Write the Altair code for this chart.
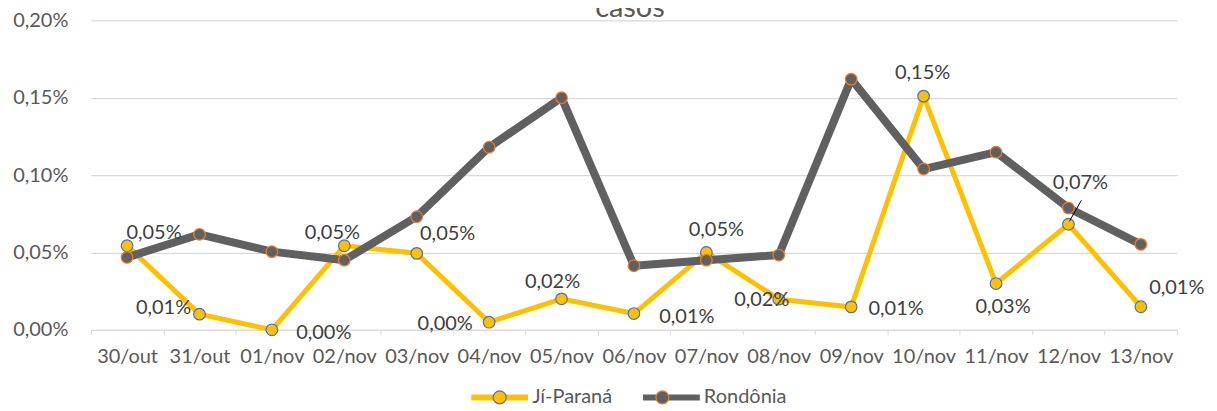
import altair as alt
import pandas as pd

# ---------------- data ----------------
dates = ["30/out", "31/out", "01/nov", "02/nov", "03/nov", "04/nov", "05/nov",
         "06/nov", "07/nov", "08/nov", "09/nov", "10/nov", "11/nov", "12/nov", "13/nov"]
ji_parana = [0.0543, 0.0101, 0.0000, 0.0543, 0.0494, 0.0049, 0.0200, 0.0105,
             0.0500, 0.0198, 0.0148, 0.1510, 0.0299, 0.0682, 0.0149]
rondonia = [0.0468, 0.0617, 0.0505, 0.0450, 0.0731, 0.1180, 0.1500, 0.0414,
            0.0450, 0.0483, 0.1620, 0.1039, 0.1148, 0.0787, 0.0552]
series_names = ["Jí-Paraná", "Rondônia"]
y_ticks = [0, 0.05, 0.10, 0.15, 0.20]
title_text = "casos"

# data-label placement (pixel offsets of each Jí-Paraná label from its point)
label_dx = [27, -36, 52, -12, 31, -44, -9, 53, 10, -17, 45, -1, 7, 12, 36]
label_dy = [-13, -6, 3, -13, -19, 2, -17, 3, -22, 1, 2, -23, 24, -41, -19]
leader_date = "12/nov"

# ---------------- styling ----------------
YELLOW, GRAY = "#FFC000", "#606060"
BLUE, ORANGE = "#4472C4", "#ED7D31"
TXT, AXT, GRID = "#404040", "#595959", "#D9D9D9"
FONT = "Lato"
W, H = 1088, 310

df = pd.DataFrame({
    "date": dates * 2,
    "series": [series_names[0]] * len(dates) + [series_names[1]] * len(dates),
    "value": ji_parana + rondonia,
})
df["serie"] = df["series"]

lab = pd.DataFrame({
    "date": dates,
    "value": ji_parana,
    "label": [f"{v:.2f}".replace(".", ",") + "%" for v in ji_parana],
})

x_enc = alt.X("date:N", sort=dates,
              scale=alt.Scale(type="band", paddingInner=0, paddingOuter=0),
              axis=alt.Axis(title=None, labelAngle=0, tickBand="extent",
                            domainColor=GRID, tickColor=GRID, tickSize=5,
                            labelFont=FONT, labelFontSize=20, labelColor=AXT,
                            labelPadding=12, grid=False))
y_enc = alt.Y("value:Q",
              scale=alt.Scale(domain=[0, 0.2], nice=False, zero=True),
              axis=alt.Axis(title=None, values=y_ticks, domain=False, ticks=False,
                            labelExpr="replace(format(datum.value, '.2f'), '.', ',') + '%'",
                            labelFont=FONT, labelFontSize=20, labelColor=AXT,
                            labelPadding=23, gridColor=GRID, gridWidth=1.3))

LEG_X, LEG_Y = 378, 346

legend_lines = alt.Legend(
    title=None, orient="none", legendX=LEG_X, legendY=LEG_Y, direction="horizontal",
    columns=2, symbolType="stroke", symbolSize=3249, symbolStrokeWidth=6,
    labelFont=FONT, labelFontSize=20, labelColor=AXT, labelOffset=1,
    symbolOffset=0, padding=0, columnPadding=18)

circle_path = "M0.21,0A0.21,0.21,0,1,1,-0.21,0A0.21,0.21,0,1,1,0.21,0Z"
legend_marks = alt.Legend(
    title=None, orient="none", legendX=LEG_X, legendY=LEG_Y, direction="horizontal",
    columns=2, symbolType=circle_path, symbolSize=3819, symbolStrokeWidth=1.2,
    labelFont=FONT, labelFontSize=20, labelColor="transparent", labelOffset=1,
    symbolOffset=0, padding=0, columnPadding=18)

color_enc = alt.Color("series:N", scale=alt.Scale(range=[YELLOW, GRAY]), legend=legend_lines)
fill_enc = alt.Fill("serie:N", scale=alt.Scale(range=[YELLOW, GRAY]), legend=legend_marks)
stroke_enc = alt.Stroke("serie:N", scale=alt.Scale(range=[BLUE, ORANGE]), legend=legend_marks)

base = alt.Chart(df)


def series_layers(name, width):
    line = base.mark_line(strokeWidth=width, strokeJoin="round", strokeCap="round").encode(
        x=x_enc, y=y_enc, color=color_enc).transform_filter(alt.datum.series == name)
    pts = base.mark_point(filled=True, size=135, strokeWidth=1.2, opacity=1).encode(
        x=x_enc, y=y_enc, fill=fill_enc, stroke=stroke_enc).transform_filter(alt.datum.series == name)
    return [line, pts]


leader = alt.Chart(lab).mark_rule(
    color="black", strokeWidth=1, xOffset=1, yOffset=-3, x2Offset=13, y2Offset=-24
).encode(x=x_enc, y=y_enc, x2="date:N", y2="value:Q").transform_filter(
    alt.datum.date == leader_date)

label_layers = []
for d, ddx, ddy in zip(dates, label_dx, label_dy):
    label_layers.append(
        alt.Chart(lab).mark_text(
            font=FONT, fontSize=20, color=TXT, align="center", baseline="middle",
            dx=ddx, dy=ddy,
        ).encode(x=x_enc, y=y_enc, text="label:N").transform_filter(alt.datum.date == d)
    )

title = alt.Chart(pd.DataFrame({"t": [title_text]})).mark_text(
    font=FONT, fontSize=29, color=AXT, align="center", baseline="alphabetic"
).encode(x=alt.value(W / 2 - 4), y=alt.value(-3), text="t:N")

chart = alt.layer(
    *series_layers(series_names[0], 5),
    *series_layers(series_names[1], 8),
    leader, *label_layers, title,
).properties(
    width=W, height=H,
    autosize=alt.AutoSizeParams(type="none"),
    padding={"left": 83, "top": 12, "right": 32, "bottom": 78},
).configure(background="white").configure_view(stroke=None)

chart.save("out.html", embed_options={"renderer": "svg", "actions": False})
